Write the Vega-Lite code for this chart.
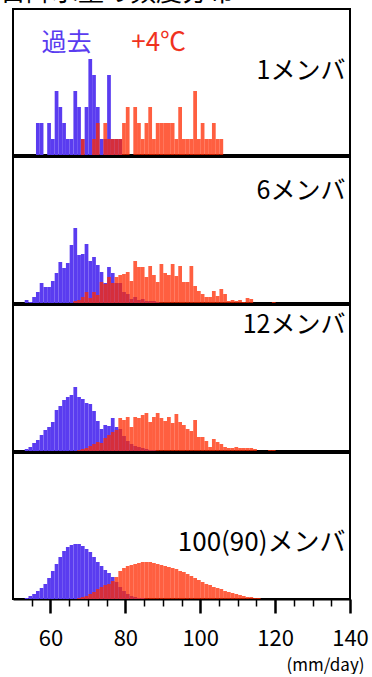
{
"$schema": "https://vega.github.io/schema/vega-lite/v6.json",
"autosize": {"type": "pad"},
"padding": {"left": 0, "top": -20, "right": 0, "bottom": 0},
"background": "white",
"spacing": 0,
"title": {"text": "日降水量の頻度分布", "anchor": "start", "fontSize": 26, "fontWeight": "normal", "color": "black", "offset": 2, "dx": -12, "font": "Noto Sans CJK JP"},
"config": {"view": {"stroke": "black", "strokeWidth": 2}, "font": "Noto Sans CJK JP"},
"datasets": {
"p1b": [{"v":56,"n":2},{"v":57,"n":2},{"v":59,"n":2},{"v":60,"n":1},{"v":61,"n":4},{"v":62,"n":3},{"v":63,"n":2},{"v":64,"n":1},{"v":65,"n":1},{"v":66,"n":4},{"v":67,"n":3},{"v":68,"n":1},{"v":69,"n":3},{"v":70,"n":6},{"v":71,"n":5},{"v":72,"n":3},{"v":73,"n":1},{"v":74,"n":1},{"v":75,"n":5},{"v":76,"n":1},{"v":77,"n":1},{"v":78,"n":1}],
"p1r": [{"v":68,"n":1},{"v":71,"n":1},{"v":72,"n":2},{"v":74,"n":2},{"v":75,"n":1},{"v":76,"n":1},{"v":77,"n":1},{"v":78,"n":1},{"v":79,"n":2},{"v":80,"n":3},{"v":82,"n":3},{"v":83,"n":2},{"v":84,"n":1},{"v":85,"n":2},{"v":86,"n":3},{"v":87,"n":1},{"v":88,"n":2},{"v":89,"n":2},{"v":90,"n":2},{"v":91,"n":2},{"v":92,"n":2},{"v":93,"n":1},{"v":94,"n":3},{"v":95,"n":1},{"v":96,"n":1},{"v":97,"n":1},{"v":98,"n":4},{"v":99,"n":1},{"v":100,"n":2},{"v":101,"n":1},{"v":102,"n":1},{"v":103,"n":2},{"v":104,"n":1},{"v":105,"n":1}],
"p2b": [{"v":53,"n":3},{"v":54,"n":1},{"v":55,"n":6},{"v":56,"n":11},{"v":57,"n":20},{"v":58,"n":16},{"v":59,"n":16},{"v":60,"n":22},{"v":61,"n":30},{"v":62,"n":41},{"v":63,"n":35},{"v":64,"n":40},{"v":65,"n":58},{"v":66,"n":75},{"v":67,"n":48},{"v":68,"n":49},{"v":69,"n":59},{"v":70,"n":42},{"v":71,"n":46},{"v":72,"n":38},{"v":73,"n":31},{"v":74,"n":20},{"v":75,"n":36},{"v":76,"n":30},{"v":77,"n":20},{"v":78,"n":20},{"v":79,"n":11},{"v":80,"n":9},{"v":81,"n":4},{"v":82,"n":6},{"v":83,"n":3},{"v":84,"n":4},{"v":85,"n":2},{"v":86,"n":2},{"v":87,"n":2},{"v":88,"n":1}],
"p2r": [{"v":66,"n":2},{"v":67,"n":3},{"v":68,"n":6},{"v":69,"n":11},{"v":70,"n":5},{"v":71,"n":11},{"v":72,"n":8},{"v":73,"n":21},{"v":74,"n":19},{"v":75,"n":26},{"v":76,"n":20},{"v":77,"n":26},{"v":78,"n":28},{"v":79,"n":29},{"v":80,"n":31},{"v":81,"n":22},{"v":82,"n":42},{"v":83,"n":36},{"v":84,"n":36},{"v":85,"n":26},{"v":86,"n":37},{"v":87,"n":28},{"v":88,"n":21},{"v":89,"n":39},{"v":90,"n":30},{"v":91,"n":28},{"v":92,"n":39},{"v":93,"n":27},{"v":94,"n":37},{"v":95,"n":21},{"v":96,"n":21},{"v":97,"n":37},{"v":98,"n":17},{"v":99,"n":12},{"v":100,"n":9},{"v":101,"n":6},{"v":102,"n":6},{"v":103,"n":12},{"v":104,"n":7},{"v":105,"n":14},{"v":106,"n":9},{"v":107,"n":2},{"v":108,"n":3},{"v":109,"n":2},{"v":110,"n":3},{"v":111,"n":1},{"v":112,"n":5},{"v":113,"n":4},{"v":119,"n":1}],
"p3b": [{"v":53,"n":2},{"v":54,"n":4},{"v":55,"n":8},{"v":56,"n":11},{"v":57,"n":16},{"v":58,"n":21},{"v":59,"n":24},{"v":60,"n":29},{"v":61,"n":41},{"v":62,"n":45},{"v":63,"n":51},{"v":64,"n":54},{"v":65,"n":56},{"v":66,"n":64},{"v":67,"n":54},{"v":68,"n":52},{"v":69,"n":48},{"v":70,"n":47},{"v":71,"n":40},{"v":72,"n":30},{"v":73,"n":22},{"v":74,"n":26},{"v":75,"n":25},{"v":76,"n":33},{"v":77,"n":24},{"v":78,"n":22},{"v":79,"n":15},{"v":80,"n":10},{"v":81,"n":7},{"v":82,"n":5},{"v":83,"n":4},{"v":84,"n":3},{"v":85,"n":2},{"v":86,"n":1},{"v":87,"n":1}],
"p3r": [{"v":67,"n":1},{"v":68,"n":2},{"v":69,"n":3},{"v":70,"n":5},{"v":71,"n":7},{"v":72,"n":9},{"v":73,"n":8},{"v":74,"n":13},{"v":75,"n":16},{"v":76,"n":19},{"v":77,"n":21},{"v":78,"n":33},{"v":79,"n":31},{"v":80,"n":34},{"v":81,"n":24},{"v":82,"n":34},{"v":83,"n":33},{"v":84,"n":36},{"v":85,"n":38},{"v":86,"n":29},{"v":87,"n":34},{"v":88,"n":38},{"v":89,"n":33},{"v":90,"n":30},{"v":91,"n":34},{"v":92,"n":28},{"v":93,"n":37},{"v":94,"n":29},{"v":95,"n":26},{"v":96,"n":22},{"v":97,"n":20},{"v":98,"n":31},{"v":99,"n":14},{"v":100,"n":14},{"v":101,"n":10},{"v":102,"n":4},{"v":103,"n":12},{"v":104,"n":9},{"v":105,"n":7},{"v":106,"n":4},{"v":107,"n":3},{"v":108,"n":3},{"v":109,"n":4},{"v":110,"n":3},{"v":111,"n":3},{"v":112,"n":3},{"v":113,"n":3},{"v":114,"n":2},{"v":118,"n":1},{"v":119,"n":1}],
"p4b": [{"v":53,"n":1},{"v":54,"n":3},{"v":55,"n":5},{"v":56,"n":8},{"v":57,"n":11},{"v":58,"n":15},{"v":59,"n":21},{"v":60,"n":28},{"v":61,"n":35},{"v":62,"n":42},{"v":63,"n":48},{"v":64,"n":52},{"v":65,"n":54},{"v":66,"n":55},{"v":67,"n":55},{"v":68,"n":53},{"v":69,"n":50},{"v":70,"n":47},{"v":71,"n":42},{"v":72,"n":37},{"v":73,"n":33},{"v":74,"n":29},{"v":75,"n":26},{"v":76,"n":22},{"v":77,"n":17},{"v":78,"n":12},{"v":79,"n":8},{"v":80,"n":5},{"v":81,"n":3},{"v":82,"n":2},{"v":83,"n":1},{"v":84,"n":1}],
"p4r": [{"v":67,"n":1},{"v":68,"n":2},{"v":69,"n":3},{"v":70,"n":5},{"v":71,"n":7},{"v":72,"n":10},{"v":73,"n":12},{"v":74,"n":14},{"v":75,"n":15},{"v":76,"n":18},{"v":77,"n":22},{"v":78,"n":28},{"v":79,"n":31},{"v":80,"n":33},{"v":81,"n":34},{"v":82,"n":35},{"v":83,"n":36},{"v":84,"n":37},{"v":85,"n":37},{"v":86,"n":37},{"v":87,"n":36},{"v":88,"n":35},{"v":89,"n":34},{"v":90,"n":33},{"v":91,"n":32},{"v":92,"n":31},{"v":93,"n":30},{"v":94,"n":28},{"v":95,"n":27},{"v":96,"n":25},{"v":97,"n":23},{"v":98,"n":21},{"v":99,"n":19},{"v":100,"n":17},{"v":101,"n":15},{"v":102,"n":14},{"v":103,"n":12},{"v":104,"n":11},{"v":105,"n":10},{"v":106,"n":8},{"v":107,"n":7},{"v":108,"n":6},{"v":109,"n":5},{"v":110,"n":4},{"v":111,"n":3},{"v":112,"n":2},{"v":113,"n":2},{"v":114,"n":1},{"v":115,"n":1}]
},
"vconcat": [
{
"width": 337, "height": 146,
"layer": [
{"data": {"name": "p1b"}, "mark": {"type": "bar", "color": "#5a3cf0", "binSpacing": 0},
 "encoding": {"x": {"field": "v", "type": "quantitative", "bin": {"binned": true, "step": 1}, "scale": {"domain": [50, 140], "nice": false, "zero": false}, "axis": null},
  "y": {"field": "n", "type": "quantitative", "scale": {"domain": [0, 9.125], "nice": false}, "axis": null}}},
{"data": {"name": "p1r"}, "mark": {"type": "bar", "color": "#ff2a00", "opacity": 0.75, "binSpacing": 0},
 "encoding": {"x": {"field": "v", "type": "quantitative", "bin": {"binned": true, "step": 1}, "scale": {"domain": [50, 140], "nice": false, "zero": false}, "axis": null},
  "y": {"field": "n", "type": "quantitative", "scale": {"domain": [0, 9.125], "nice": false}, "axis": null}}},
{"data": {"values": [{"label": "1メンバ", "x": 138.8, "y": 5.25}]}, "mark": {"type": "text", "align": "right", "baseline": "middle", "fontSize": 25, "color": "black"},
 "encoding": {"x": {"field": "x", "type": "quantitative", "scale": {"domain": [50, 140], "nice": false, "zero": false}, "axis": null}, "y": {"field": "y", "type": "quantitative", "scale": {"domain": [0, 9.125], "nice": false}, "axis": null}, "text": {"field": "label"}}},
{"data": {"values": [{"label": "過去", "x": 64.3, "y": 7.0}]}, "mark": {"type": "text", "align": "center", "baseline": "middle", "fontSize": 25, "color": "#5a3cf0"},
 "encoding": {"x": {"field": "x", "type": "quantitative", "scale": {"domain": [50, 140], "nice": false, "zero": false}, "axis": null}, "y": {"field": "y", "type": "quantitative", "scale": {"domain": [0, 9.125], "nice": false}, "axis": null}, "text": {"field": "label"}}},
{"data": {"values": [{"label": "+4℃", "x": 88.9, "y": 7.0}]}, "mark": {"type": "text", "align": "center", "baseline": "middle", "fontSize": 26, "color": "#f0321e"},
 "encoding": {"x": {"field": "x", "type": "quantitative", "scale": {"domain": [50, 140], "nice": false, "zero": false}, "axis": null}, "y": {"field": "y", "type": "quantitative", "scale": {"domain": [0, 9.125], "nice": false}, "axis": null}, "text": {"field": "label"}}}
]
},
{
"width": 337, "height": 146,
"layer": [
{"data": {"name": "p2b"}, "mark": {"type": "bar", "color": "#5a3cf0", "binSpacing": 0},
 "encoding": {"x": {"field": "v", "type": "quantitative", "bin": {"binned": true, "step": 1}, "scale": {"domain": [50, 140], "nice": false, "zero": false}, "axis": null},
  "y": {"field": "n", "type": "quantitative", "scale": {"domain": [0, 146], "nice": false}, "axis": null}}},
{"data": {"name": "p2r"}, "mark": {"type": "bar", "color": "#ff2a00", "opacity": 0.75, "binSpacing": 0},
 "encoding": {"x": {"field": "v", "type": "quantitative", "bin": {"binned": true, "step": 1}, "scale": {"domain": [50, 140], "nice": false, "zero": false}, "axis": null},
  "y": {"field": "n", "type": "quantitative", "scale": {"domain": [0, 146], "nice": false}, "axis": null}}},
{"data": {"values": [{"label": "6メンバ", "x": 138.8, "y": 112}]}, "mark": {"type": "text", "align": "right", "baseline": "middle", "fontSize": 25, "color": "black"},
 "encoding": {"x": {"field": "x", "type": "quantitative", "scale": {"domain": [50, 140], "nice": false, "zero": false}, "axis": null}, "y": {"field": "y", "type": "quantitative", "scale": {"domain": [0, 146], "nice": false}, "axis": null}, "text": {"field": "label"}}}
]
},
{
"width": 337, "height": 146,
"layer": [
{"data": {"name": "p3b"}, "mark": {"type": "bar", "color": "#5a3cf0", "binSpacing": 0},
 "encoding": {"x": {"field": "v", "type": "quantitative", "bin": {"binned": true, "step": 1}, "scale": {"domain": [50, 140], "nice": false, "zero": false}, "axis": null},
  "y": {"field": "n", "type": "quantitative", "scale": {"domain": [0, 146], "nice": false}, "axis": null}}},
{"data": {"name": "p3r"}, "mark": {"type": "bar", "color": "#ff2a00", "opacity": 0.75, "binSpacing": 0},
 "encoding": {"x": {"field": "v", "type": "quantitative", "bin": {"binned": true, "step": 1}, "scale": {"domain": [50, 140], "nice": false, "zero": false}, "axis": null},
  "y": {"field": "n", "type": "quantitative", "scale": {"domain": [0, 146], "nice": false}, "axis": null}}},
{"data": {"values": [{"label": "12メンバ", "x": 138.8, "y": 126}]}, "mark": {"type": "text", "align": "right", "baseline": "middle", "fontSize": 25, "color": "black"},
 "encoding": {"x": {"field": "x", "type": "quantitative", "scale": {"domain": [50, 140], "nice": false, "zero": false}, "axis": null}, "y": {"field": "y", "type": "quantitative", "scale": {"domain": [0, 146], "nice": false}, "axis": null}, "text": {"field": "label"}}}
]
},
{
"width": 337, "height": 146,
"layer": [
{"data": {"name": "p4b"}, "mark": {"type": "bar", "color": "#5a3cf0", "binSpacing": 0},
 "encoding": {"x": {"field": "v", "type": "quantitative", "bin": {"binned": true, "step": 1}, "scale": {"domain": [50, 140], "nice": false, "zero": false},
   "axis": {"values": [55,60,65,70,75,80,85,90,95,100,105,110,115,120,125,130,135,140], "labelExpr": "datum.value % 20 === 0 ? datum.label : ''", "tickSize": {"condition": {"test": "datum.value % 20 === 0", "value": 14}, "value": 7}, "tickWidth": {"condition": {"test": "datum.value % 20 === 0", "value": 2.5}, "value": 1.5}, "tickColor": "black", "domainColor": "black", "domainWidth": 2, "labelFontSize": 22, "labelColor": "black", "labelPadding": 15, "labelFlush": false, "labelOverlap": false, "labelBound": false, "grid": false, "title": "(mm/day)", "titleFontSize": 17, "titleFontWeight": "normal", "titleColor": "black", "titleAnchor": "end", "titleAlign": "right", "titleX": 351, "titleY": 66, "titleBaseline": "middle"}},
  "y": {"field": "n", "type": "quantitative", "scale": {"domain": [0, 146], "nice": false}, "axis": null}}},
{"data": {"name": "p4r"}, "mark": {"type": "bar", "color": "#ff2a00", "opacity": 0.75, "binSpacing": 0},
 "encoding": {"x": {"field": "v", "type": "quantitative", "bin": {"binned": true, "step": 1}, "scale": {"domain": [50, 140], "nice": false, "zero": false}},
  "y": {"field": "n", "type": "quantitative", "scale": {"domain": [0, 146], "nice": false}, "axis": null}}},
{"data": {"values": [{"label": "100(90)メンバ", "x": 138.8, "y": 56}]}, "mark": {"type": "text", "align": "right", "baseline": "middle", "fontSize": 26, "color": "black"},
 "encoding": {"x": {"field": "x", "type": "quantitative", "scale": {"domain": [50, 140], "nice": false, "zero": false}}, "y": {"field": "y", "type": "quantitative", "scale": {"domain": [0, 146], "nice": false}, "axis": null}, "text": {"field": "label"}}}
]
}
]
}
